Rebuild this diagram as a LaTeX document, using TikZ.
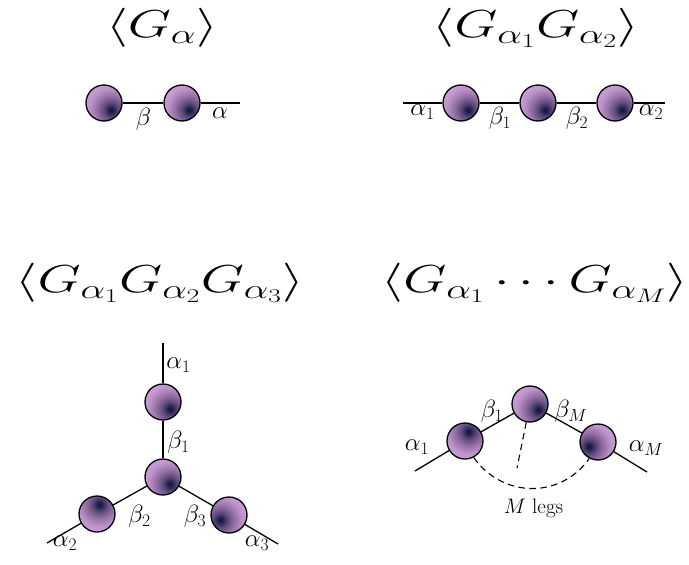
\RequirePackage{fix-cm}
\documentclass[tikz,border=0pt]{standalone}
\usetikzlibrary{calc}
\definecolor{sp0}{RGB}{15,20,55}
\definecolor{sp1}{RGB}{38,36,82}
\definecolor{sp2}{RGB}{92,72,122}
\definecolor{sp3}{RGB}{145,110,162}
\definecolor{sp4}{RGB}{190,146,202}
\definecolor{sp5}{RGB}{215,170,226}
\definecolor{sp6}{RGB}{228,190,238}
\pgfdeclareradialshading{ballrad}{\pgfpoint{0bp}{0bp}}{%
  color(0bp)=(sp0); color(2bp)=(sp1); color(5bp)=(sp2); color(9.5bp)=(sp3);
  color(15bp)=(sp4); color(24bp)=(sp5); color(50bp)=(sp6)}
\tikzset{
  ball/.style={circle, draw=black, line width=1.3pt, minimum size=36pt, inner sep=0pt,
    path picture={\shade[shading=ballrad] ($(path picture bounding box.center)+(#1:10pt)$) circle (36pt);}},
  leg/.style={line width=1.3pt},
  dleg/.style={line width=1.1pt, dash pattern=on 6.5pt off 4.5pt},
  lab/.style={inner sep=0pt, font=\fontsize{25}{30}\selectfont},
  ttl/.style={inner sep=0pt, font=\fontsize{39}{47}\selectfont},
}
\newcommand{\wide}[1]{\scalebox{1.43}[1]{#1}}
\begin{document}
\begin{tikzpicture}[x=1pt,y=-1pt]
\useasboundingbox (0,0) rectangle (689,565);
% titles
\node[ttl] (t1) at (162,28) {\wide{$\left\langle G_\alpha\right\rangle$}};
\node[ttl] (t2) at (536,28) {\wide{$\left\langle G_{\alpha_1}G_{\alpha_2}\right\rangle$}};
\node[ttl] (t3) at (160,283) {\wide{$\left\langle G_{\alpha_1}G_{\alpha_2}G_{\alpha_3}\right\rangle$}};
\node[ttl] (t4) at (535,283) {\wide{$\left\langle G_{\alpha_1}\cdots G_{\alpha_M}\right\rangle$}};
% diagram 1
\node[ball=-45] (a1) at (104,103) {};
\node[ball=-45] (a2) at (182,103) {};
\coordinate (ae) at (240,103);
\draw[leg] (a1) -- (a2);
\draw[leg] (a2) -- (ae);
\node[lab] (la1) at (143.5,119) {$\beta$};
\node[lab] (la2) at (220,113) {$\alpha$};
% diagram 2
\coordinate (bs) at (403,103);
\node[ball=-45] (b1) at (461,103) {};
\node[ball=-45] (b2) at (538,103) {};
\node[ball=-45] (b3) at (615,103) {};
\coordinate (be) at (665,103);
\draw[leg] (bs) -- (b1);
\draw[leg] (b1) -- (b2);
\draw[leg] (b2) -- (b3);
\draw[leg] (b3) -- (be);
\node[lab] (lb1) at (422.5,112) {$\alpha_1$};
\node[lab] (lb2) at (500,118) {$\beta_1$};
\node[lab] (lb3) at (577,118) {$\beta_2$};
\node[lab] (lb4) at (651,112) {$\alpha_2$};
% diagram 3
\coordinate (ct) at (163,343);
\node[ball=-45] (c1) at (163,402) {};
\node[ball=-45] (c0) at (163,477) {};
\node[ball=75] (c2) at (97,514) {};
\node[ball=-150] (c3) at (229,515) {};
\coordinate (cl) at (47,543);
\coordinate (cr) at (278,544);
\draw[leg] (ct) -- (c1);
\draw[leg] (c1) -- (c0);
\draw[leg] (c0) -- (c2);
\draw[leg] (c2) -- (cl);
\draw[leg] (c0) -- (c3);
\draw[leg] (c3) -- (cr);
\node[lab] (lc1) at (178.5,365) {$\alpha_1$};
\node[lab] (lc2) at (178.5,442) {$\beta_1$};
\node[lab] (lc3) at (139.5,516) {$\beta_2$};
\node[lab] (lc4) at (195,516) {$\beta_3$};
\node[lab] (lc5) at (65,543) {$\alpha_2$};
\node[lab] (lc6) at (257,543) {$\alpha_3$};
% diagram 4
\coordinate (dl) at (415,471);
\node[ball=68] (d1) at (465,441) {};
\node[ball=-35] (d0) at (530,404) {};
\node[ball=-153] (d2) at (598,442) {};
\coordinate (dr) at (647,472);
\coordinate (dd) at (517,468);
\draw[leg] (dl) -- (d1);
\draw[leg] (d1) -- (d0);
\draw[leg] (d0) -- (d2);
\draw[leg] (d2) -- (dr);
\draw[dleg] (d0) -- (dd);
\draw[dleg] (d1.-62) to[out=-55,in=-125,looseness=1.1] (d2.-118);
\node[lab] (ld1) at (417,447) {$\alpha_1$};
\node[lab] (ld2) at (492,411) {$\beta_1$};
\node[lab] (ld3) at (571,411) {$\beta_M$};
\node[lab] (ld4) at (646,448) {$\alpha_M$};
\node[inner sep=0pt, font=\fontsize{21}{25}\selectfont] (ld5) at (533.5,508) {$M$ legs};
\end{tikzpicture}
\end{document}
